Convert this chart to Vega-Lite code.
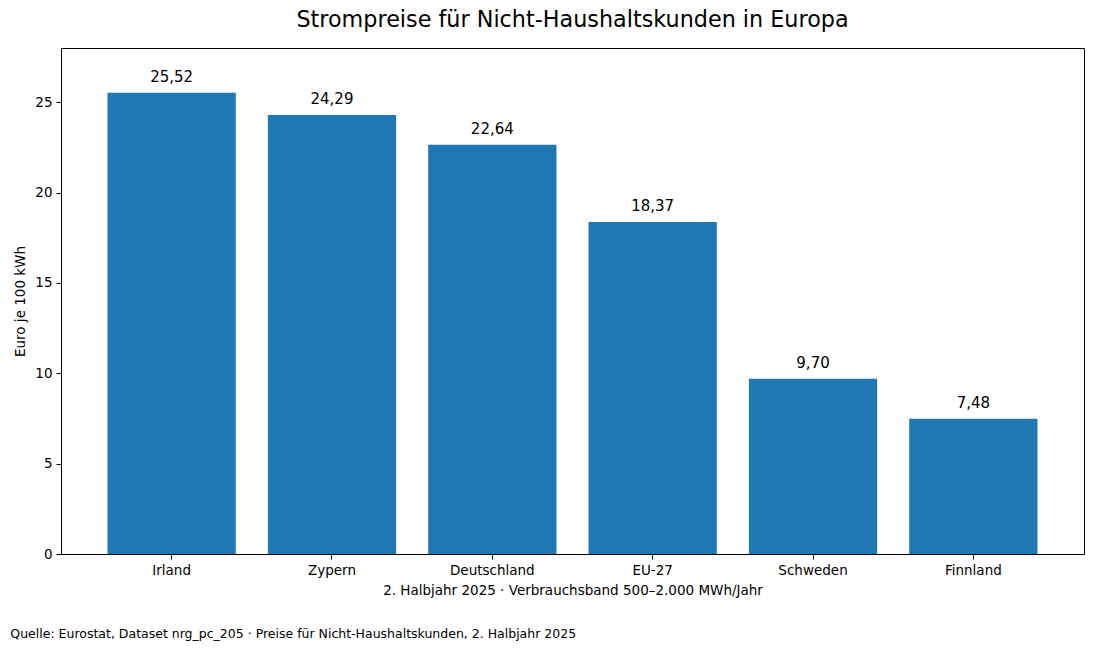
{
  "$schema": "https://vega.github.io/schema/vega-lite/v6.json",
  "padding": {"left": 10, "top": 8, "right": 10, "bottom": 8},
  "background": "white",
  "config": {
    "font": "DejaVu Sans",
    "locale": {"number": {"decimal": ",", "thousands": ".", "grouping": [3], "currency": ["", " €"]}},
    "view": {"stroke": "black", "strokeWidth": 1},
    "axis": {
      "domainColor": "black",
      "tickColor": "black",
      "tickSize": 5,
      "labelColor": "black",
      "labelFontSize": 13.5,
      "titleColor": "black",
      "titleFontSize": 13.5,
      "titleFontWeight": "normal",
      "grid": false
    }
  },
  "title": {
    "text": "Quelle: Eurostat, Dataset nrg_pc_205 · Preise für Nicht-Haushaltskunden, 2. Halbjahr 2025",
    "orient": "bottom",
    "anchor": "start",
    "fontSize": 12.5,
    "fontWeight": "normal",
    "color": "black",
    "dx": -3,
    "offset": 30
  },
  "vconcat": [
    {
      "title": {
        "text": "Strompreise für Nicht-Haushaltskunden in Europa",
        "fontSize": 22.3,
        "fontWeight": "normal",
        "color": "black",
        "offset": 17
      },
      "width": 1023,
      "height": 506,
      "data": {
        "values": [
          {"land": "Irland", "preis": 25.52},
          {"land": "Zypern", "preis": 24.29},
          {"land": "Deutschland", "preis": 22.64},
          {"land": "EU-27", "preis": 18.37},
          {"land": "Schweden", "preis": 9.70},
          {"land": "Finnland", "preis": 7.48}
        ]
      },
      "encoding": {
        "x": {
          "field": "land",
          "type": "nominal",
          "sort": null,
          "scale": {"paddingInner": 0.2, "paddingOuter": 0.29},
          "axis": {
            "title": "2. Halbjahr 2025 · Verbrauchsband 500–2.000 MWh/Jahr",
            "labelAngle": 0,
            "labelPadding": 4,
            "titlePadding": 7
          }
        },
        "y": {
          "field": "preis",
          "type": "quantitative",
          "scale": {"domain": [0, 28], "nice": false},
          "axis": {
            "title": "Euro je 100 kWh",
            "values": [0, 5, 10, 15, 20, 25],
            "labelPadding": 4,
            "titlePadding": 7
          }
        }
      },
      "layer": [
        {"mark": {"type": "bar", "color": "#1f77b4"}},
        {
          "mark": {"type": "text", "baseline": "bottom", "dy": -8, "fontSize": 15, "color": "black"},
          "encoding": {"text": {"field": "preis", "type": "quantitative", "format": ".2f"}}
        }
      ]
    }
  ]
}
